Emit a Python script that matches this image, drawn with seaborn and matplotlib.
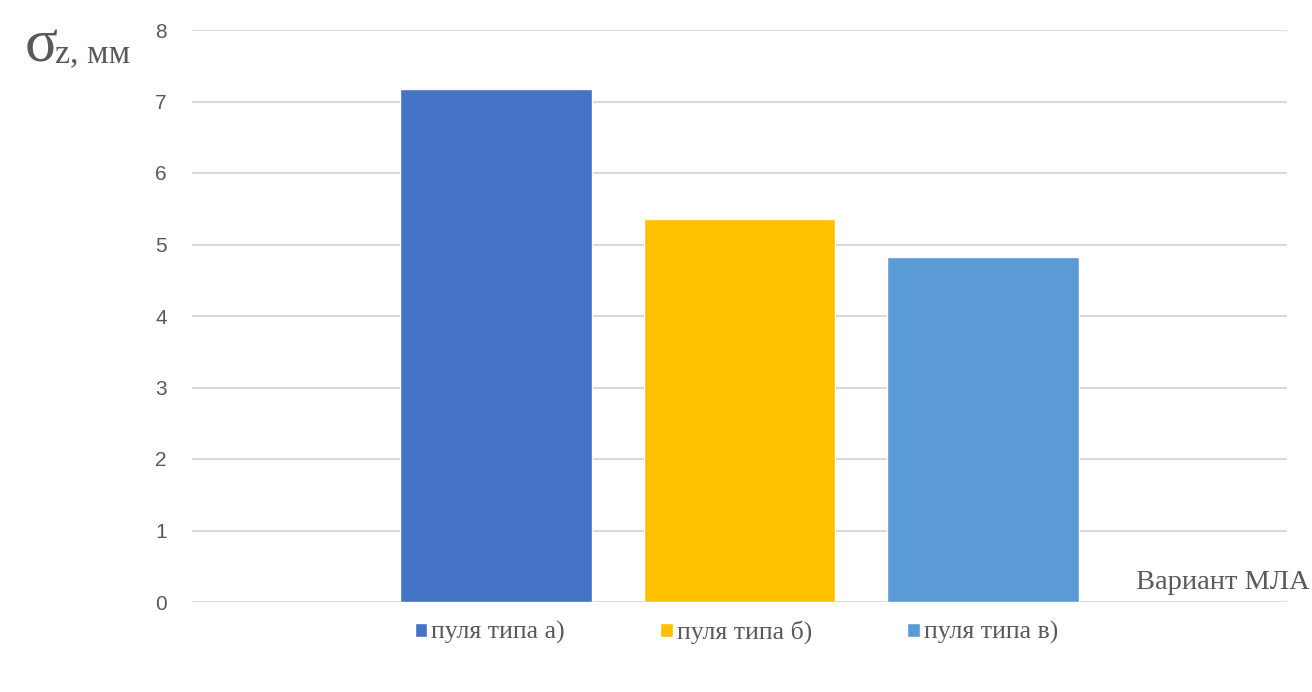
import matplotlib
matplotlib.use("Agg")
import matplotlib.pyplot as plt
import seaborn as sns
import pandas as pd

categories = ["Вариант МЛА"]
series = ["пуля типа а)", "пуля типа б)", "пуля типа в)"]
values = [7.18, 5.35, 4.82]
colors = ["#4472C4", "#FFC000", "#5B9BD5"]
yticks = [0, 1, 2, 3, 4, 5, 6, 7, 8]

df = pd.DataFrame({"cat": categories * len(series), "series": series, "value": values})

sns.set_theme(style="white")
plt.rcParams["font.family"] = ["Liberation Sans", "DejaVu Sans"]

fig = plt.figure(figsize=(13.12, 6.92), dpi=100)
ax = fig.add_axes([192 / 1312, 1 - 602 / 692, (1287 - 192) / 1312, (602 - 30) / 692])

sns.barplot(data=df, x="cat", y="value", hue="series", palette=colors,
            width=0.667, gap=0.215, ax=ax, legend=True, saturation=1)

ax.set_ylim(0, 8)
ax.set_xlim(-0.5, 0.5)
ax.set_yticks(yticks)
ax.set_yticklabels([str(t) for t in yticks], color="#595959", fontsize=15)
ax.tick_params(axis="y", length=0, pad=18)
ax.set_xticks([])
ax.set_xlabel("")
ax.set_ylabel("")
ax.grid(axis="y", color="#D9D9D9", linewidth=1.5)
ax.set_axisbelow(True)
for s in ax.spines.values():
    s.set_visible(False)

serif = ["Liberation Serif", "DejaVu Serif"]
fig.text(25 / 1312, 1 - 62 / 692, "σ", fontsize=44, color="#595959", family=serif, va="baseline")
fig.text(55 / 1312, 1 - 62 / 692, "z, мм", fontsize=24.5, color="#595959", family=serif, va="baseline")
fig.text(1310 / 1312, 1 - 589 / 692, categories[0], fontsize=20.5, color="#595959",
         family=serif, va="baseline", ha="right")

handles, labels = ax.get_legend_handles_labels()
ax.legend(handles, labels, loc="upper center", bbox_to_anchor=(0.497, 0.008), ncol=3,
          frameon=False, handlelength=0.5, handleheight=0.5, handletextpad=0.15,
          columnspacing=3.7, prop={"family": serif, "size": 18.5}, labelcolor="#595959")

fig.savefig("out.png", dpi=100)
